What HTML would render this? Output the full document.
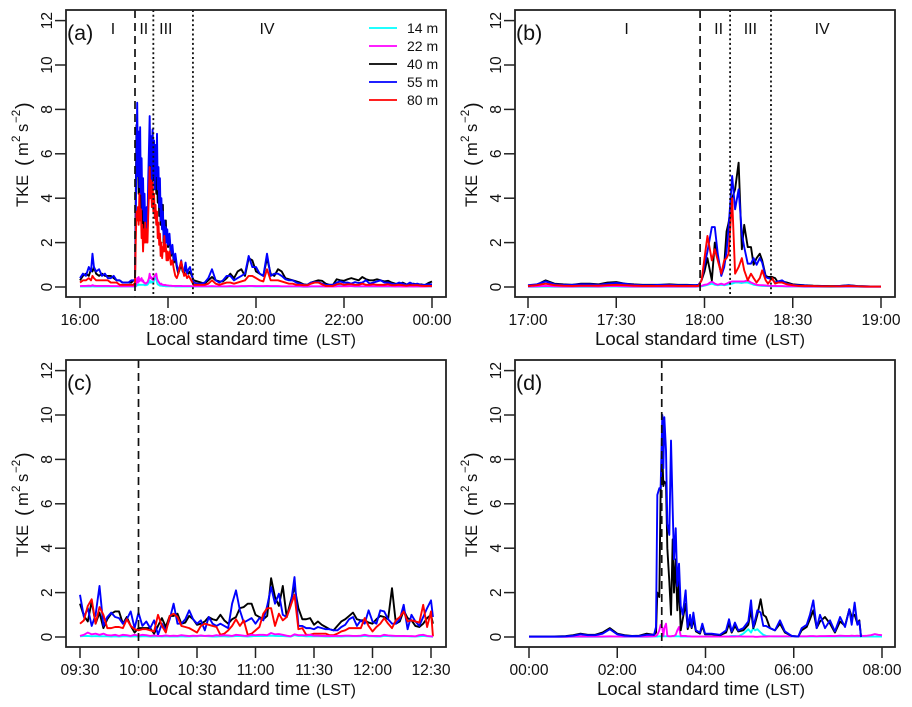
<!DOCTYPE html>
<html lang="en">
<head>
<meta charset="utf-8">
<title>TKE time series</title>
<style>
  html, body { margin: 0; padding: 0; background: #fff; }
  svg { display: block; font-family: "Liberation Sans", sans-serif; }
</style>
</head>
<body>
<svg id="figure" xmlns="http://www.w3.org/2000/svg" width="912" height="707" viewBox="0 0 912 707"></svg>
<script>
/* Panel (a): minutes after 16:00 */
const aTimes = [0,4,8,12,15,17,19,22,26,30, 34,38,42,46,50,54,58,62,66,70, 73,75,
  76,77,78,79,80,81,82,83,84,85, 86,87,88,89,90,91,92,93,94,95, 96,97,98,99,100,101,102,103,104,105, 106,107,108,109,110,111,112,113,114,115, 116,117,118,119,120,
  122,124,126,128,130,132,134,136,138,140,142,144,146,148,150,
  155,160,165,170,175,180,185,190,195,200, 205,210,215,220,225,230,235,240,245,250, 255,260,265,270,275,280,285,290,295,300,
  305,310,315,320,325,330,335,340,345,350, 355,360,365,370,375,380,385,390,395,400, 405,410,415,420,425,430,435,440,445,450, 455,460,465,470,475,480];
const a14 = [.02,.02,.02,.02,.02,.03,.02,.02,.02,.02, .02,.02,.02,.02,.02,.02,.02,.02,.02,.02, .02,.02,
  .02,.05,.1,.08,.12,.1,.1,.1,.1,.1, .1,.1,.08,.08,.08,.1,.1,.15,.2,.3, .2,.25,.2,.25,.2,.3,.4,.45,.35,.2, .12,.1,.08,.06,.06,.06,.05,.05,.04,.04, .04,.03,.03,.03,.03,
  .03,.03,.03,.03,.02,.02,.02,.02,.02,.02,.02,.02,.02,.02,.02,
  .02,.02,.02,.02,.02,.02,.02,.02,.02,.02, .02,.02,.02,.02,.02,.03,.03,.02,.02,.02, .03,.02,.02,.02,.02,.02,.02,.02,.02,.02,
  .01,.01,.02,.02,.02,.02,.02,.02,.02,.03, .08,.08,.05,.04,.02,.02,.02,.02,.02,.02, .02,.02,.02,.02,.02,.02,.02,.02,.02,.02, .02,.02,.02,.02,.02,.02];
const a22 = [.04,.05,.05,.06,.05,.08,.06,.05,.05,.05, .05,.05,.04,.04,.04,.03,.03,.03,.03,.03, .03,.04,
  .05,.2,.4,.2,.45,.25,.35,.3,.4,.25, .3,.2,.2,.15,.15,.2,.2,.3,.4,.6, .4,.45,.35,.4,.3,.45,.5,.55,.6,.4, .3,.25,.2,.15,.12,.15,.1,.1,.1,.08, .1,.08,.08,.07,.07,
  .06,.06,.05,.05,.05,.05,.05,.05,.05,.04,.04,.04,.04,.04,.04,
  .03,.03,.03,.03,.03,.04,.03,.03,.03,.03, .04,.03,.03,.04,.04,.05,.05,.04,.04,.04, .05,.04,.04,.04,.03,.03,.03,.03,.03,.03,
  .02,.02,.03,.03,.03,.03,.02,.02,.02,.03, .03,.03,.03,.04,.03,.03,.03,.03,.03,.03, .03,.03,.03,.03,.03,.02,.03,.02,.02,.03, .02,.03,.02,.02,.03,.03];
const a40 = [.3,.5,.6,.5,.8,.7,.9,.6,.5,.6, .5,.5,.5,.4,.3,.3,.2,.2,.2,.2, .3,.3,
  4,7.3,5,6.4,4.2,6,3.8,5,3.2,4, 2.6,3.6,2.5,3.2,2.2,3,2.5,3.8,5,6, 4.6,5.5,4.4,7,4.8,6.2,4.6,5.8,4.2,5.2, 3.8,4.8,3.2,4.2,2.8,3.4,2.6,3.7,2,2.6, 2,3,2,2.4,1.8,
  2.2,1.4,1.7,1.1,1.3,.9,.6,.8,1,.7,.6,.9,.7,.6,.7,
  .3,.25,.2,.15,.3,.45,.3,.25,.25,.4, .6,.4,.7,.8,.5,1.3,1.2,.7,.6,.5, 1.3,.6,.5,.8,.7,.4,.35,.3,.25,.2,
  .12,.1,.2,.25,.3,.28,.15,.1,.1,.35, .3,.28,.35,.4,.35,.3,.45,.35,.3,.3, .35,.3,.25,.28,.2,.15,.12,.2,.12,.1, .15,.1,.12,.08,.18,.25];
const a55 = [.4,.6,.5,.9,.7,1.5,.9,.7,.8,.5, .6,.4,.4,.5,.3,.3,.2,.2,.2,.3, .3,.3,
  3,6,8.3,5,7,4.5,7.2,4.2,5.8,3.5, 4.9,3,4.2,2.6,2.4,3.6,2.8,4.8,6.2,7.7, 5.5,6.8,4.8,7.1,5,6.6,4.4,6.4,5,6.9, 4.4,5.4,3.6,4.9,3,4,2.6,3.4,2.2,3, 1.9,2.7,2,2.6,1.9,
  2.4,1.5,1.9,1.2,1.5,1,.7,.9,1.2,.8,.7,1.1,.6,.8,.9,
  .2,.15,.15,.2,.4,.8,.3,.2,.3,.5, .5,.3,.4,.5,.6,1.4,.9,.9,.6,.5, 1.5,.5,.6,.6,.5,.35,.3,.3,.2,.15,
  .1,.1,.2,.22,.22,.15,.1,.1,.1,.2, .25,.2,.2,.15,.22,.18,.2,.3,.15,.2, .25,.3,.2,.2,.15,.12,.2,.15,.1,.2, .12,.15,.1,.1,.12,.12];
const a80 = [.2,.3,.3,.4,.3,.5,.4,.3,.3,.3, .3,.3,.2,.2,.2,.1,.1,.1,.1,.1, .1,.2,
  2,3.4,3,3.6,2.8,4.2,3,3.5,2.2,2.8, 1.6,2.6,2,2.9,2,2.6,2,3.2,4.2,5.4, 4,4.8,3.6,4.7,3.4,4.2,3.1,3.7,2.8,3.4, 2.2,2.9,1.9,2.4,1.4,2,1.3,1.8,1.6,2.3, 1.6,1.9,1.2,1.6,1.2,
  1.6,1,1.2,.8,.5,.4,.6,.9,1.15,.8,.5,.6,.4,.5,.4,
  .1,.1,.1,.1,.15,.3,.15,.1,.15,.2, .2,.15,.2,.25,.3,.5,.5,.4,.3,.25, .8,.3,.3,.3,.25,.2,.15,.15,.1,.1,
  .08,.08,.15,.2,.2,.12,.05,.05,.05,.12, .15,.1,.12,.12,.1,.1,.15,.1,.1,.12, .1,.1,.1,.12,.08,.08,.1,.08,.06,.08, .08,.08,.06,.05,.05,.05];

/* Panel (b): minutes after 17:00 */
const bTimes = [0,3,6,9,12,15,18,21,24,27, 30,33,36,39,42,45,48,51,54,57,
  58,59,60,61,62.5,63.5,64.5,65.7,66.7,67.5, 68.2,69.4,70.4,71.6,72.7,73.5,74.7,75.8,76.7,77.7, 78.8,79.6,80.8,81.6,83,84,85,86.4,88,90, 92,
  94,97,100,103,106,109,112,115,118,120];
const b14 = [.01,.01,.02,.01,.01,.01,.01,.01,.01,.02, .02,.01,.01,.01,.01,.01,.01,.01,.01,.01,
  .02,.03,.06,.1,.15,.1,.08,.1,.08,.1, .12,.15,.2,.2,.18,.2,.2,.15,.1,.08, .06,.05,.04,.04,.03,.03,.03,.03,.02,.02, .02,
  .01,.01,.01,.01,.01,.01,.01,.01,.01,.01];
const b22 = [.02,.03,.05,.03,.02,.02,.03,.03,.02,.04, .04,.03,.02,.02,.02,.02,.02,.02,.02,.02,
  .03,.05,.1,.12,.25,.15,.1,.15,.1,.15, .2,.25,.25,.25,.25,.25,.3,.2,.15,.1, .08,.08,.07,.06,.05,.05,.04,.04,.03,.03, .03,
  .02,.02,.02,.02,.02,.02,.02,.01,.01,.01];
const b40 = [.05,.1,.3,.15,.12,.1,.15,.15,.12,.2, .22,.15,.12,.1,.1,.1,.12,.1,.1,.08,
  .1,.3,.7,1.3,.3,2,1.3,.6,1,2.5, 2.9,4,4.4,5.6,1.7,2.8,1.8,1.8,1,1.3, 1.5,1.2,.5,.45,.45,.4,.2,.25,.2,.12, .1,
  .08,.06,.05,.04,.05,.08,.04,.03,.02,.02];
const b55 = [.08,.12,.25,.12,.1,.1,.12,.12,.1,.15, .18,.15,.1,.08,.08,.1,.1,.08,.08,.08,
  .1,.3,1,1.6,2.7,2.7,1.5,.5,.9,1.6, 2.7,5,3.5,4.4,2.4,1.8,1.05,1.05,1.3,1, 1.3,1.1,.45,.4,.35,.2,.25,.3,.15,.1, .08,
  .07,.05,.04,.03,.05,.07,.04,.03,.02,.02];
const b80 = [.05,.08,.15,.08,.06,.05,.06,.06,.06,.08, .1,.08,.06,.05,.05,.05,.06,.05,.05,.05,
  .05,.3,1.3,2.3,1.2,1.7,1.2,.6,1.2,1.3, 1.5,4,.6,.9,1.3,.75,.3,.6,.4,.2, .4,.75,.3,.15,.4,.15,.2,.2,.12,.08, .05,
  .05,.04,.03,.03,.03,.05,.03,.02,.02,.02];

/* Panel (c): minutes after 09:30 */
const cTimes = [0,2,4,6,8,10,12,14,16,18, 20,22,24,26,28,30,32,34,36,38, 40,42,44,46,48,50,52,54,56,58, 60,62,64,66,68,70,72,74,76,78,
  80,82,84,86,88,90,92,94,96,98, 100,102,104,106,108,110,112,114,116,118, 120,122,124,126,128,130,132,134,136,138, 140,142,144,146,148,150,152,154,156,158,
  160,162,164,166,168,170,172,174,176,178, 180,181];
const c14 = [.03,.04,.05,.03,.04,.03,.03,.03,.02,.03, .02,.03,.03,.02,.03,.02,.03,.03,.02,.02, .03,.02,.03,.02,.02,.02,.03,.02,.02,.03, .03,.05,.04,.03,.02,.02,.03,.03,.02,.03,
  .04,.04,.03,.02,.03,.05,.04,.04,.05,.06, .05,.04,.04,.03,.02,.08,.05,.05,.03,.03, .03,.03,.03,.02,.02,.03,.02,.02,.03,.03, .03,.03,.03,.05,.03,.03,.02,.02,.05,.04,
  .03,.03,.03,.03,.03,.02,.02,.03,.05,.03, .02,.01];
const c22 = [.05,.1,.2,.12,.15,.1,.15,.08,.07,.1, .05,.1,.08,.05,.1,.06,.1,.08,.05,.07, .05,.05,.07,.05,.06,.05,.08,.06,.04,.06, .05,.07,.05,.06,.05,.08,.06,.08,.07,.05,
  .1,.08,.06,.05,.1,.08,.1,.1,.08,.18, .12,.13,.1,.06,.03,.12,.08,.08,.07,.1, .06,.06,.05,.05,.04,.04,.05,.05,.06,.06, .05,.05,.06,.1,.06,.05,.05,.04,.1,.07,
  .06,.05,.05,.05,.04,.04,.03,.08,.1,.05, .03,.02];
const c40 = [1.5,.95,.7,1.6,.6,1.1,.4,.8,1.05,1.15, 1.15,.6,.9,.5,.2,.4,.4,.4,.4,.15, .5,.85,.45,.95,.95,1.05,.6,.65,.95,.8, .55,.6,.7,.9,.8,.75,1,.75,.6,.8,
  .9,1.3,1.35,1.5,1.5,1,.9,.8,.95,2.65, 1.8,1.4,2.3,.9,1.6,2.25,1.3,.8,.8,.85, .55,.7,.55,.45,.35,.3,.5,.7,.8,.95, 1.1,.8,.75,.75,.65,.6,.8,.95,.9,.8,
  2.2,.6,.7,1.2,.85,.75,.5,.45,.6,.85, 1,.6];
const c55 = [1.9,.9,1.3,.5,1,2.3,.5,.9,1.1,.9, .85,.6,.8,1.15,.4,1.1,.5,.7,.4,.75, .1,.6,.3,.8,1.5,.6,.6,.8,1.2,.8, .6,.75,.3,.9,.6,.5,.6,.5,.4,1.5,
  2.1,1.2,.65,.75,.85,.6,.85,.75,1.4,2.25, 1.5,1.95,1,.9,1.4,2.7,.5,.5,.4,.4, .35,.45,.4,.35,.35,.3,.3,.45,.55,.8, .9,.5,.75,.6,1.2,.7,.6,1.2,1.15,.8,
  .6,.6,.8,1.45,.35,1,.7,.5,.9,1.3, 1.65,.9];
const c80 = [.6,.75,1.4,1.7,.6,1.35,1,.4,.4,.45, .45,.4,.8,.5,.35,.3,.35,.35,.3,.25, 1,.5,.2,.95,1.05,.9,.5,.45,.4,.3, .2,.5,.6,.55,.5,.45,.1,.15,.3,.5,
  .8,.5,.75,.1,.15,.3,.45,1.05,1.3,1.3, .5,1.05,.75,.9,1.4,1.9,.35,.4,.1,.1, .15,.15,.15,.15,.08,.08,.15,.25,.3,.4, .4,.4,.4,.85,.5,.25,.45,.6,.85,.6,
  .4,.75,.9,1.15,.7,.75,.7,.65,1.45,.45, 1.15,.03];

/* Panel (d): minutes after 00:00 (40 m and 55 m stop at about 07:31; no 80 m series) */
const dTimes = [0,10,20,30,40,50,60,70,80,90, 100,110,120,130,140,150,160,
  170,172.7,174.5,177.2,179,181.3,182.7,184,186.3,188.1, 190.8,193.1,195.4,197.2,199.5,201.7,204,206.3,209,213, 215.8,219,221.2,223.5,227,232.5,235.7,239.3,248.4,259.7,
  268,272,275.6,280,284.6,291.4,298.2,301.9,305,307.3, 310.5,315,318.6,322.3,327.7,334.5,341.3,348,357.2,366.2, 370.8,377.6,382,386.6,391.2,395.7,402.5,409.3,416,423, 429.7,435.6,438.8,442.8,446.5,449.2,451.5,
  455,460,465,470,475,480];
const d14 = [.01,.01,.01,.01,.01,.01,.01,.01,.01,.01, .01,.02,.02,.01,.01,.01,.01,
  .02,.02,.02,.03,.03,.03,.03,.03,.03,.03, .03,.03,.03,.03,.03,.03,.03,.02,.02,.02, .02,.02,.02,.02,.02,.02,.02,.02,.02,.02,
  .02,.03,.05,.05,.03,.15,.35,.2,.4,.3, .35,.2,.1,.05,.03,.02,.02,.02,.02,.02, .02,.02,.02,.02,.02,.02,.02,.02,.02,.02, .02,.02,.02,.02,.02,.02,.02,
  .02,.02,.02,.02,.02,.02];
const d22 = [.01,.01,.01,.01,.01,.01,.02,.02,.02,.02, .02,.03,.02,.02,.02,.02,.02,
  .03,.05,.1,.3,.55,.4,.05,.4,.6,.05, .03,.03,.05,.05,.1,.3,.45,.05,.05,.05, .03,.03,.02,.02,.02,.02,.02,.02,.02,.02,
  .02,.02,.02,.02,.03,.02,.02,.02,.02,.01, .01,.02,.02,.02,.03,.03,.03,.03,.03,.03, .03,.03,.04,.04,.03,.04,.04,.05,.04,.06, .05,.05,.06,.05,.06,.05,.06,
  .05,.06,.08,.13,.1,.08];
const d40 = [.02,.02,.02,.02,.03,.04,.08,.15,.1,.1, .2,.4,.15,.08,.05,.06,.15,
  .1,.2,2,1.8,6.6,8.2,6.8,7,6.9,4, 2.5,1,4.4,2,3.5,1.2,2.5,.3,.8,1.5, .35,.7,.4,.8,.25,.15,.5,.12,.12,.08,
  .2,.6,.2,.5,.25,.3,.55,1.2,.4,.6, 1,1.7,1,.9,.4,.3,.6,.2,.05,.02, .3,.45,.8,1.2,.4,.7,.9,.6,.2,.7, .5,1.25,.9,1,.6,.75,0];
const d55 = [.02,.02,.02,.02,.02,.03,.06,.12,.08,.08, .15,.35,.12,.06,.04,.05,.1,
  .1,.45,6.4,6.7,6.7,10,7.6,9.9,8.4,5.1, 4.6,8.85,5.7,3.5,4.9,2.3,3.3,1.4,1,2.1, .45,1,.45,1.1,.3,.2,.6,.15,.15,.1,
  .3,.8,.25,.65,.3,.4,.7,1.65,.45,.75, 1.2,1.1,.5,.5,.4,.3,.75,.25,.05,.02, .4,.55,1,1.65,.4,1,.4,.75,.25,.9, .45,1.25,.55,1.55,.55,.7,0];

/* Shared axis and legend labels */
const yTickValues = [0,2,4,6,8,10,12];
const aTickMinutes = [0,120,240,360,480];
const aTickLabels = ["16:00","18:00","20:00","22:00","00:00"];
const bTickMinutes = [0,30,60,90,120];
const bTickLabels = ["17:00","17:30","18:00","18:30","19:00"];
const cTickMinutes = [0,30,60,90,120,150,180];
const cTickLabels = ["09:30","10:00","10:30","11:00","11:30","12:00","12:30"];
const dTickMinutes = [0,120,240,360,480];
const dTickLabels = ["00:00","02:00","04:00","06:00","08:00"];
const legendLabels = ["14 m","22 m","40 m","55 m","80 m"];
const seriesColors = ["#00ffff","#ff00ff","#000000","#0000ff","#ff0000"];

/* Event markers: [minutes, style] */
const aEvents = [[75,"dash"],[100,"dot"],[154,"dot"]];
const bEvents = [[58.5,"dash"],[68.7,"dot"],[82.6,"dot"]];
const cEvents = [[30,"dash"]];
const dEvents = [[180.5,"dash"]];

/* Regime labels: [text, minutes] */
const aRegimes = [["I",45],["II",87],["III",117],["IV",255]];
const bRegimes = [["I",33.5],["II",64.8],["III",75.6],["IV",100]];

const NS = "http://www.w3.org/2000/svg";
const figure = document.getElementById("figure");

function make(parent, tag, attrs, name, text) {
  const el = document.createElementNS(NS, tag);
  for (const k in attrs) el.setAttribute(k, attrs[k]);
  
  
  if (text !== undefined) el.textContent = text;
  parent.appendChild(el);
  return el;
}

function addSpan(parent, text, x, y, size) {
  const t = document.createElementNS(NS, "tspan");
  t.setAttribute("x", x);
  t.setAttribute("y", y);
  t.setAttribute("font-size", size);
  t.textContent = text;
  parent.appendChild(t);
}

function drawPanel(cfg) {
  const g = make(figure, "g", {}, "panel-" + cfg.id);
  const L = cfg.boxLeft, R = cfg.boxRight, T = cfg.boxTop, B = cfg.boxTop + 287;
  const y0 = cfg.boxTop + 277;
  const yScale = v => y0 - v * 22.2;
  const xScale = m => cfg.xLeft + (m / cfg.xMax) * (cfg.xRight - cfg.xLeft);

  cfg.series.forEach(s => {
    const pts = s.values.map((v, i) => xScale(cfg.times[i]).toFixed(2) + "," + yScale(v).toFixed(2));
    make(g, "polyline", {points: pts.join(" "), fill: "none", stroke: s.color, "stroke-width": 1.9, "stroke-linejoin": "round"}, "series-" + s.label.replace(" ", "") + "-panel-" + cfg.id);
  });

  cfg.events.forEach(ev => {
    const x = xScale(ev[0]);
    const dash = ev[1] === "dash" ? "8 5" : "2 2.7";
    make(g, "line", {x1: x, x2: x, y1: T, y2: B, stroke: "#111", "stroke-width": ev[1] === "dash" ? 1.7 : 1.8, "stroke-dasharray": dash}, ev[1] === "dash" ? "event-onset-line" : "regime-boundary-line");
  });

  make(g, "rect", {x: L, y: T, width: R - L, height: B - T, fill: "none", stroke: "#222", "stroke-width": 1.8}, "plot-frame");

  yTickValues.forEach(v => {
    const y = yScale(v);
    make(g, "line", {x1: L - 11, x2: L, y1: y, y2: y, stroke: "#222", "stroke-width": 1.5}, "y-tick");
    make(g, "text", {x: 0, y: 0, "font-size": 15.6, "text-anchor": "middle", fill: "#111", transform: "translate(" + (L - 14) + " " + y + ") rotate(-90)"}, "y-tick-label", String(v));
  });

  cfg.tickMinutes.forEach((m, i) => {
    const x = xScale(m);
    make(g, "line", {x1: x, x2: x, y1: B, y2: B + 11, stroke: "#222", "stroke-width": 1.5}, "x-tick");
    make(g, "text", {x: x, y: B + 28, "font-size": 15.6, "text-anchor": "middle", fill: "#111"}, "x-tick-label", cfg.tickLabels[i]);
  });

  const xTitle = make(g, "text", {fill: "#111"}, "x-axis-title");
  addSpan(xTitle, "Local standard time", L + cfg.titleStart, B + 48, 18.6);
  addSpan(xTitle, "(LST)", L + 250, B + 48, 16);

  const yTitle = make(g, "text", {fill: "#111", transform: "translate(" + (L - 38) + " " + (T + 197) + ") rotate(-90)"}, "y-axis-title");
  addSpan(yTitle, "TKE", 0, 0, 16.5);
  addSpan(yTitle, "(", 41, 2, 20);
  addSpan(yTitle, "m", 51, 0, 16.5);
  addSpan(yTitle, "2", 65, -8, 11.5);
  addSpan(yTitle, "s", 75, 0, 16.5);
  addSpan(yTitle, "\u22122", 84, -8, 11.5);
  addSpan(yTitle, ")", 98, 2, 20);

  make(g, "text", {x: L + 1, y: T + 30, "font-size": 21.5, fill: "#111"}, "panel-label", "(" + cfg.id + ")");

  cfg.regimes.forEach(r => {
    make(g, "text", {x: xScale(r[1]), y: T + 24, "font-size": 16, "text-anchor": "middle", fill: "#111"}, "regime-label", r[0]);
  });
}

function drawLegend() {
  const g = make(figure, "g", {}, "legend");
  legendLabels.forEach((label, i) => {
    const y = 28 + i * 18;
    make(g, "line", {x1: 369, x2: 397, y1: y, y2: y, stroke: seriesColors[i], "stroke-width": 1.7}, "legend-line");
    make(g, "text", {x: 407, y: y + 5, "font-size": 14, fill: "#111"}, "legend-entry", label);
  });
}

const panelList = [
  {id: "a", boxLeft: 66, boxRight: 446, boxTop: 10, xLeft: 80, xRight: 432, xMax: 480, titleStart: 80, times: aTimes,
   tickMinutes: aTickMinutes, tickLabels: aTickLabels, events: aEvents, regimes: aRegimes,
   series: [{label: legendLabels[0], color: seriesColors[0], values: a14}, {label: legendLabels[1], color: seriesColors[1], values: a22}, {label: legendLabels[2], color: seriesColors[2], values: a40}, {label: legendLabels[3], color: seriesColors[3], values: a55}, {label: legendLabels[4], color: seriesColors[4], values: a80}]},
  {id: "b", boxLeft: 515, boxRight: 895, boxTop: 10, xLeft: 528, xRight: 881, xMax: 120, titleStart: 80, times: bTimes,
   tickMinutes: bTickMinutes, tickLabels: bTickLabels, events: bEvents, regimes: bRegimes,
   series: [{label: legendLabels[0], color: seriesColors[0], values: b14}, {label: legendLabels[1], color: seriesColors[1], values: b22}, {label: legendLabels[2], color: seriesColors[2], values: b40}, {label: legendLabels[3], color: seriesColors[3], values: b55}, {label: legendLabels[4], color: seriesColors[4], values: b80}]},
  {id: "c", boxLeft: 66, boxRight: 446, boxTop: 360, xLeft: 80, xRight: 431, xMax: 180, titleStart: 82, times: cTimes,
   tickMinutes: cTickMinutes, tickLabels: cTickLabels, events: cEvents, regimes: [],
   series: [{label: legendLabels[0], color: seriesColors[0], values: c14}, {label: legendLabels[2], color: seriesColors[2], values: c40}, {label: legendLabels[3], color: seriesColors[3], values: c55}, {label: legendLabels[4], color: seriesColors[4], values: c80}, {label: legendLabels[1], color: seriesColors[1], values: c22}]},
  {id: "d", boxLeft: 515, boxRight: 895, boxTop: 360, xLeft: 529, xRight: 882, xMax: 480, titleStart: 82, times: dTimes,
   tickMinutes: dTickMinutes, tickLabels: dTickLabels, events: dEvents, regimes: [],
   series: [{label: legendLabels[0], color: seriesColors[0], values: d14}, {label: legendLabels[1], color: seriesColors[1], values: d22}, {label: legendLabels[2], color: seriesColors[2], values: d40}, {label: legendLabels[3], color: seriesColors[3], values: d55}]}
];

panelList.forEach(drawPanel);
drawLegend();
</script>
</body>
</html>
